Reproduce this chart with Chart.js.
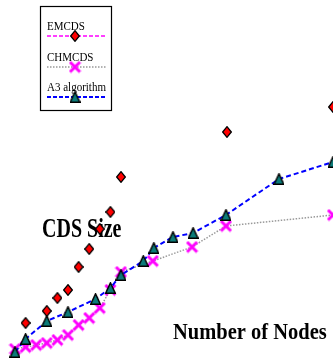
<!DOCTYPE html>
<html>
<head>
<meta charset="utf-8">
<script src="https://cdn.jsdelivr.net/npm/chart.js@4/dist/chart.umd.min.js"></script>
<style>
html,body{margin:0;padding:0;background:#fff;}
#wrap{width:333px;height:360px;}
</style>
</head>
<body>
<div id="wrap"><canvas id="c" width="333" height="360"></canvas></div>
<script>
// ---- data ----
const emcdsNodes = [10, 30, 40, 50, 60, 70, 80, 90, 100, 200, 300];
const emcdsSize  = [18.5, 24.5, 31, 35, 46.5, 55.5, 65.5, 74, 91.5, 114, 126.5];

const chmcdsNodes = [0, 10, 20, 30, 40, 50, 60, 70, 80, 90, 100, 130, 167, 199, 300];
const chmcdsSize  = [5.5, 6.5, 7.5, 8.5, 10, 12.5, 17.5, 21, 26, 35, 44, 49.5, 56.5, 67, 72.5];

const a3Nodes = [0, 10, 30, 50, 76, 90, 100, 121, 131, 149, 168, 199, 249, 300];
const a3Size  = [4, 10.5, 19.5, 24, 30.5, 36, 42.5, 49.5, 56, 61.5, 63.5, 72.5, 90.5, 99];

const seriesNames = ['EMCDS', 'CHMCDS', 'A3 algorithm'];
const xTitle = 'Number of Nodes';
const yTitle = 'CDS Size';

// ---- marker images ----
function makeDiamond() {
  const c = document.createElement('canvas'); c.width = 10; c.height = 12;
  const g = c.getContext('2d');
  g.beginPath(); g.moveTo(5, 0.7); g.lineTo(9.3, 6); g.lineTo(5, 11.3); g.lineTo(0.7, 6); g.closePath();
  g.fillStyle = '#ff0000'; g.fill(); g.lineWidth = 1.3; g.strokeStyle = '#000'; g.stroke();
  return c;
}
function makeTriangle() {
  const c = document.createElement('canvas'); c.width = 11; c.height = 12;
  const g = c.getContext('2d');
  g.beginPath(); g.moveTo(5.5, 0.8); g.lineTo(10.3, 11.2); g.lineTo(0.7, 11.2); g.closePath();
  g.fillStyle = '#0b7b79'; g.fill(); g.lineWidth = 1.5; g.strokeStyle = '#000'; g.stroke();
  return c;
}
function makeCross() {
  const c = document.createElement('canvas'); c.width = 13; c.height = 13;
  const g = c.getContext('2d');
  g.strokeStyle = '#ff00ff'; g.lineWidth = 3; g.lineCap = 'butt';
  g.beginPath(); g.moveTo(1.5, 1.5); g.lineTo(11.5, 11.5); g.moveTo(11.5, 1.5); g.lineTo(1.5, 11.5); g.stroke();
  return c;
}
const diamondImg = makeDiamond();
const triangleImg = makeTriangle();
const crossImg = makeCross();

function pts(xs, ys) { return xs.map((x, i) => ({x: x, y: ys[i]})); }

const titlesPlugin = {
  id: 'titles',
  beforeDatasetsDraw(chart) {
    const ctx = chart.ctx;
    ctx.save();
    ctx.fillStyle = '#000';
    ctx.textBaseline = 'alphabetic';
    ctx.textAlign = 'left';
    ctx.font = 'bold 20px "Liberation Serif"';
    ctx.save(); ctx.translate(42, 237); ctx.scale(1, 1.4); ctx.fillText(yTitle, 0, 0); ctx.restore();
    ctx.font = 'bold 20.5px "Liberation Serif"';
    ctx.save(); ctx.translate(173, 339); ctx.scale(1, 1.1); ctx.fillText(xTitle, 0, 0); ctx.restore();
    ctx.restore();
  }
};

const legendPlugin = {
  id: 'customLegend',
  afterDraw(chart) {
    const ctx = chart.ctx;
    ctx.save();
    ctx.fillStyle = '#fff';
    ctx.fillRect(40.5, 6.5, 71, 104);
    ctx.strokeStyle = '#000'; ctx.lineWidth = 1.2;
    ctx.strokeRect(40.5, 6.5, 71, 104);
    const items = [
      {name: seriesNames[0], color: '#ff00ff', dash: [4, 2], width: 1.5, img: diamondImg, ty: 30, ly: 36},
      {name: seriesNames[1], color: '#999999', dash: [1.5, 1.5], width: 1.5, img: crossImg, ty: 61, ly: 67},
      {name: seriesNames[2], color: '#0000ff', dash: [4, 2], width: 1.8, img: triangleImg, ty: 91, ly: 97}
    ];
    items.forEach(it => {
      ctx.fillStyle = '#000';
      ctx.font = '11px "Liberation Serif"';
      ctx.textAlign = 'left'; ctx.textBaseline = 'alphabetic';
      ctx.save(); ctx.translate(47, it.ty); ctx.scale(1, 1.1); ctx.fillText(it.name, 0, 0); ctx.restore();
      ctx.setLineDash(it.dash); ctx.strokeStyle = it.color; ctx.lineWidth = it.width;
      ctx.beginPath(); ctx.moveTo(47, it.ly); ctx.lineTo(106, it.ly); ctx.stroke();
      ctx.setLineDash([]);
      ctx.drawImage(it.img, 75 - it.img.width / 2, it.ly - it.img.height / 2);
    });
    ctx.restore();
  }
};

new Chart(document.getElementById('c'), {
  type: 'scatter',
  data: {
    datasets: [
      {
        label: seriesNames[2], data: pts(a3Nodes, a3Size), showLine: true,
        borderColor: '#0000ff', borderWidth: 2, borderDash: [5, 3], tension: 0,
        pointStyle: triangleImg, pointRadius: 6, order: 0, clip: false
      },
      {
        label: seriesNames[1], data: pts(chmcdsNodes, chmcdsSize), showLine: true,
        borderColor: '#999999', borderWidth: 1.5, borderDash: [1.5, 1.5], tension: 0,
        pointStyle: crossImg, pointRadius: 6, order: 1, clip: false
      },
      {
        label: seriesNames[0], data: pts(emcdsNodes, emcdsSize), showLine: false,
        borderColor: '#ff00ff', pointStyle: diamondImg, pointRadius: 6, order: 2, clip: false
      }
    ]
  },
  options: {
    responsive: false,
    animation: false,
    devicePixelRatio: 1,
    layout: {padding: 0, autoPadding: false},
    events: [],
    plugins: {legend: {display: false}, tooltip: {enabled: false}},
    scales: {
      x: {type: 'linear', min: -14.15, max: 300, display: false},
      y: {type: 'linear', min: 0, max: 180, display: false}
    }
  },
  plugins: [titlesPlugin, legendPlugin]
});
</script>
</body>
</html>
